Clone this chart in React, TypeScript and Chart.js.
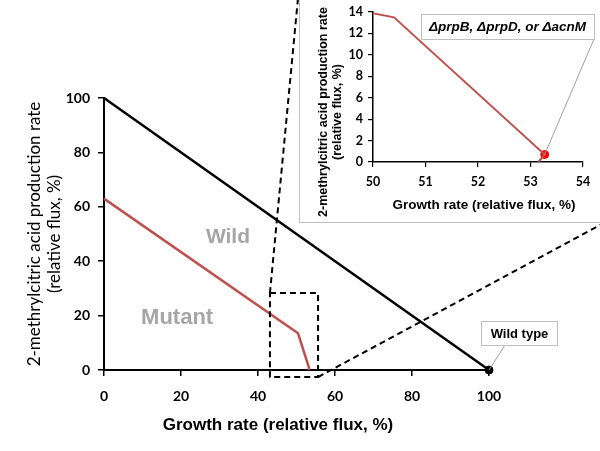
import React, { useEffect, useRef } from 'react';
import { Chart, registerables } from 'chart.js';

Chart.register(...registerables);

// ---- data ----
const wildGrowth = [0, 100];
const wildProduction = [100, 0];
const mutantGrowth = [0, 50.4, 53.27, 53.15];
const mutantProduction = [63, 13.5, 0.7, 0];
const wildTypeGrowth = [100];
const wildTypeProduction = [0];
const knockoutGrowth = [53.27];
const knockoutProduction = [0.7];
const zoomBoxGrowth = [43.1, 55.6];
const zoomBoxProduction = [-2.6, 28.3];
const regionLabels = ['Wild', 'Mutant'];
const regionLabelGrowth = [32.2, 19.0];
const regionLabelProduction = [48.9, 19.3];
const mainXRange = [0, 100, 20];
const mainYRange = [0, 100, 20];
const insetXRange = [50, 54, 1];
const insetYRange = [0, 14, 2];
const xTitle = 'Growth rate (relative flux, %)';
const yTitle = ['2-methrylcitric acid production rate', '(relative flux, %)'];
const wildTypeLabel = 'Wild type';
const knockoutLabel = 'ΔprpB, ΔprpD, or ΔacnM';

const toPts = (xs: number[], ys: number[]) => xs.map((v, i) => ({ x: v, y: ys[i] }));

const RED = '#c0504d';
const GREY_BORDER = '#bfbfbf';
const tickFont = { family: 'Lato', size: 14, weight: 'bold' as const };
const insetTickFont = { family: 'Lato', size: 12.5, weight: 'bold' as const };

export default function App() {
  const mainRef = useRef<HTMLCanvasElement>(null);
  const insetRef = useRef<HTMLCanvasElement>(null);

  useEffect(() => {
    const mainDecor = {
      id: 'mainDecor',
      afterDraw(chart: any) {
        const { ctx } = chart;
        const x = chart.scales.x;
        const y = chart.scales.y;
        ctx.save();
        // region labels
        ctx.fillStyle = '#a6a6a6';
        ctx.textAlign = 'center';
        ctx.textBaseline = 'middle';
        regionLabels.forEach((t, i) => {
          ctx.font = i === 0 ? 'bold 21px "Liberation Sans", Arial, sans-serif' : 'bold 22px "Liberation Sans", Arial, sans-serif';
          ctx.fillText(t, x.getPixelForValue(regionLabelGrowth[i]), y.getPixelForValue(regionLabelProduction[i]));
        });
        // dashed zoom box
        const bx0 = x.getPixelForValue(zoomBoxGrowth[0]);
        const bx1 = x.getPixelForValue(zoomBoxGrowth[1]);
        const byBottom = y.getPixelForValue(zoomBoxProduction[0]);
        const byTop = y.getPixelForValue(zoomBoxProduction[1]);
        ctx.strokeStyle = '#000';
        ctx.lineWidth = 2;
        ctx.setLineDash([6, 4]);
        ctx.strokeRect(bx0, byTop, bx1 - bx0, byBottom - byTop);
        ctx.beginPath();
        ctx.moveTo(bx0, byTop);
        ctx.lineTo(298, -2);
        ctx.moveTo(bx1, byBottom);
        ctx.lineTo(602, 224);
        ctx.stroke();
        ctx.setLineDash([]);
        // Wild type callout
        const px = x.getPixelForValue(wildTypeGrowth[0]);
        const py = y.getPixelForValue(wildTypeProduction[0]);
        ctx.strokeStyle = '#a0a0a0';
        ctx.lineWidth = 1;
        ctx.beginPath();
        ctx.moveTo(505, 345);
        ctx.lineTo(px, py);
        ctx.stroke();
        ctx.fillStyle = '#fff';
        ctx.fillRect(481, 321, 76, 24);
        ctx.strokeStyle = GREY_BORDER;
        ctx.strokeRect(481.5, 321.5, 76, 24);
        ctx.fillStyle = '#000';
        ctx.font = 'bold 13px "Liberation Sans", Arial, sans-serif';
        ctx.fillText(wildTypeLabel, 519.5, 334);
        // x title
        ctx.font = 'bold 17px "Liberation Sans", Arial, sans-serif';
        ctx.fillText(xTitle, 278, 425);
        ctx.restore();
      },
    };

    const main = new Chart(mainRef.current!, {
      type: 'scatter',
      data: {
        datasets: [
          {
            label: 'Wild',
            data: toPts(wildGrowth, wildProduction),
            showLine: true,
            borderColor: '#000',
            borderWidth: 2.5,
            pointRadius: 0,
            clip: false as any,
          },
          {
            label: 'Mutant',
            data: toPts(mutantGrowth, mutantProduction),
            showLine: true,
            borderColor: RED,
            borderWidth: 2.5,
            pointRadius: 0,
            clip: false as any,
          },
          {
            label: 'Wild type',
            data: toPts(wildTypeGrowth, wildTypeProduction),
            pointRadius: 4,
            pointBackgroundColor: '#000',
            pointBorderColor: '#000',
            clip: false as any,
          },
        ],
      },
      options: {
        animation: false,
        responsive: false,
        layout: { padding: { left: 0, right: 111, top: 98, bottom: 0 } },
        plugins: { legend: { display: false }, tooltip: { enabled: false } },
        scales: {
          x: {
            type: 'linear',
            min: mainXRange[0],
            max: mainXRange[1],
            ticks: { stepSize: mainXRange[2], color: '#000', font: tickFont, padding: 12 },
            grid: { drawOnChartArea: false, drawTicks: true, tickLength: 6, color: '#000', lineWidth: 1.5 },
            border: { color: '#000', width: 2 },
            afterFit: (s: any) => { s.height = 81; },
          },
          y: {
            type: 'linear',
            min: mainYRange[0],
            max: mainYRange[1],
            ticks: { stepSize: mainYRange[2], color: '#000', font: tickFont, padding: 8 },
            grid: { drawOnChartArea: false, drawTicks: true, tickLength: 6, color: '#000', lineWidth: 1.5 },
            border: { color: '#000', width: 2 },
            title: {
              display: true,
              text: yTitle,
              color: '#000',
              font: { family: 'Lato', size: 17, weight: 'normal' as const, lineHeight: 1.15 },
              padding: { top: 25, bottom: 0 },
            },
            afterFit: (s: any) => { s.width = 104; },
          },
        },
      },
      plugins: [mainDecor],
    });

    const insetDecor = {
      id: 'insetDecor',
      afterDraw(chart: any) {
        const { ctx } = chart;
        const x = chart.scales.x;
        const y = chart.scales.y;
        ctx.save();
        ctx.fillStyle = '#000';
        ctx.textAlign = 'center';
        ctx.textBaseline = 'middle';
        // y title
        ctx.font = 'bold 12.5px "Liberation Sans", Arial, sans-serif';
        [24, 38].forEach((lx, i) => {
          ctx.save();
          ctx.translate(lx, 114);
          ctx.rotate(-Math.PI / 2);
          ctx.fillText(yTitle[i], 0, 0);
          ctx.restore();
        });
        // x title
        ctx.font = 'bold 13.5px "Liberation Sans", Arial, sans-serif';
        ctx.fillText(xTitle, 184, 207);
        // knockout callout
        const px = x.getPixelForValue(knockoutGrowth[0]);
        const py = y.getPixelForValue(knockoutProduction[0]);
        ctx.strokeStyle = '#a0a0a0';
        ctx.lineWidth = 1;
        ctx.beginPath();
        ctx.moveTo(294, 41);
        ctx.lineTo(px, py);
        ctx.stroke();
        ctx.fillStyle = '#fff';
        ctx.fillRect(121, 16, 173, 25);
        ctx.strokeStyle = GREY_BORDER;
        ctx.strokeRect(121.5, 16.5, 173, 25);
        ctx.fillStyle = '#000';
        ctx.font = 'italic bold 13.5px "Liberation Sans", Arial, sans-serif';
        ctx.fillText(knockoutLabel, 207.5, 29.5);
        ctx.restore();
      },
    };

    const inset = new Chart(insetRef.current!, {
      type: 'scatter',
      data: {
        datasets: [
          {
            label: 'Mutant',
            data: toPts(mutantGrowth, mutantProduction),
            showLine: true,
            borderColor: RED,
            borderWidth: 2,
            pointRadius: 0,
          },
          {
            label: 'Knockout',
            data: toPts(knockoutGrowth, knockoutProduction),
            pointRadius: 4,
            pointBackgroundColor: '#ff0000',
            pointBorderColor: '#ff0000',
            clip: false as any,
          },
        ],
      },
      options: {
        animation: false,
        responsive: false,
        layout: { padding: { left: 0, right: 17, top: 14, bottom: 0 } },
        plugins: { legend: { display: false }, tooltip: { enabled: false } },
        scales: {
          x: {
            type: 'linear',
            min: insetXRange[0],
            max: insetXRange[1],
            ticks: { stepSize: insetXRange[2], color: '#000', font: insetTickFont, padding: 7 },
            grid: { drawOnChartArea: false, drawTicks: true, tickLength: 5, color: '#000', lineWidth: 1.2 },
            border: { color: '#000', width: 1.5 },
            afterFit: (s: any) => { s.height = 60; },
          },
          y: {
            type: 'linear',
            min: insetYRange[0],
            max: insetYRange[1],
            ticks: { stepSize: insetYRange[2], color: '#000', font: insetTickFont, padding: 5 },
            grid: { drawOnChartArea: false, drawTicks: true, tickLength: 5, color: '#000', lineWidth: 1.2 },
            border: { color: '#000', width: 1.5 },
            afterFit: (s: any) => { s.width = 73; },
          },
        },
      },
      plugins: [insetDecor],
    });

    return () => {
      main.destroy();
      inset.destroy();
    };
  }, []);

  return (
    <div style={{ position: 'absolute', left: 0, top: 0, width: 600, height: 451, overflow: 'hidden', background: '#fff' }}>
      <canvas ref={mainRef} width={600} height={451} style={{ position: 'absolute', left: 0, top: 0 }} />
      <div
        style={{
          position: 'absolute',
          left: 299,
          top: -3,
          width: 303,
          height: 226,
          border: '1px solid #c0c0c0',
          background: '#fff',
          boxSizing: 'border-box',
        }}
      >
        <canvas ref={insetRef} width={300} height={224} style={{ position: 'absolute', left: 0, top: 0 }} />
      </div>
    </div>
  );
}
